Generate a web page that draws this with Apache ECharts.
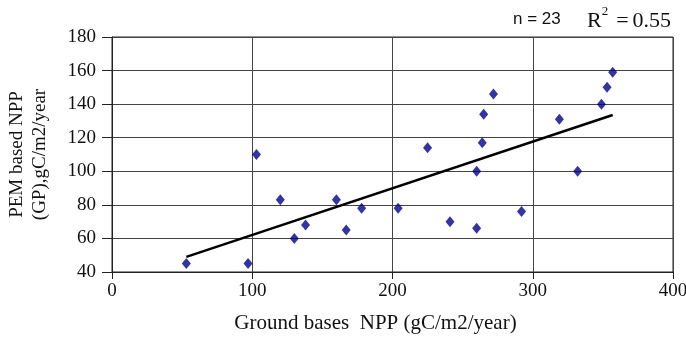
<!DOCTYPE html>
<html><head><meta charset="utf-8">
<script src="https://cdn.jsdelivr.net/npm/echarts@6/dist/echarts.min.js"></script>
<style>html,body{margin:0;padding:0;background:#fff}#c{width:686px;height:338px}</style>
</head><body><div id="c"></div>
<script>
const groundNPP = [53, 97, 103, 120, 130, 138, 160, 167, 178, 204, 225, 241, 260, 260, 264, 265, 272, 292, 319, 332, 349, 353, 357];
const pemNPP    = [45, 45, 110, 83, 60, 68, 83, 65, 78, 78, 114, 70, 100, 66, 117, 134, 146, 76, 131, 100, 140, 150, 159];
const trendX = [53, 357];
const trendY = [49, 133.5];
const xTicks = [0, 100, 200, 300, 400];
const yTicks = [40, 60, 80, 100, 120, 140, 160, 180];
const xTitle = 'Ground bases  NPP (gC/m2/year)';
const yTitle = 'PEM based NPP\n(GP),gC/m2/year';
const nLabel = 'n = 23';

const font = 'Liberation Serif';
const tickRich = {t: {fontFamily: font, fontSize: 19, color: '#111'}};
const chart = echarts.init(document.getElementById('c'), null, {renderer: 'canvas'});
chart.setOption({
  animation: false,
  backgroundColor: '#fff',
  textStyle: {fontFamily: font},
  grid: {left: 112, right: 13, top: 37, bottom: 66, show: true, borderColor: '#222', borderWidth: 1,
         containLabel: false, outerBoundsMode: 'none'},
  xAxis: {
    type: 'value', min: xTicks[0], max: xTicks[xTicks.length - 1], interval: 100,
    axisLine: {show: true, lineStyle: {color: '#222', width: 1}},
    axisTick: {show: true, length: 7, lineStyle: {color: '#222'}},
    axisLabel: {color: '#111', fontFamily: font, fontSize: 19, margin: 10, formatter: '{t|{value}}', rich: tickRich},
    splitLine: {show: true, lineStyle: {color: '#444', width: 1}},
    name: xTitle, nameLocation: 'middle', nameGap: 41,
    nameTextStyle: {color: '#111', fontFamily: font, fontSize: 21, padding: [0, 34, 0, 0]}
  },
  yAxis: {
    type: 'value', min: yTicks[0], max: yTicks[yTicks.length - 1], interval: 20,
    axisLine: {show: true, lineStyle: {color: '#222', width: 1}},
    axisTick: {show: true, length: 10, lineStyle: {color: '#222'}},
    axisLabel: {color: '#111', fontFamily: font, fontSize: 19, margin: 16, formatter: '{t|{value}}', rich: tickRich},
    splitLine: {show: true, lineStyle: {color: '#444', width: 1}},
    name: yTitle, nameLocation: 'middle', nameGap: 60, nameRotate: 90,
    nameTextStyle: {color: '#111', fontFamily: font, fontSize: 19, lineHeight: 23, align: 'center'}
  },
  series: [
    {
      type: 'line', data: trendX.map((x, i) => [x, trendY[i]]),
      symbol: 'none', lineStyle: {color: '#000', width: 2.5}, z: 3
    },
    {
      type: 'scatter', data: groundNPP.map((x, i) => [x, pemNPP[i]]),
      symbol: 'diamond', symbolSize: [9, 11], itemStyle: {color: '#00008B'}, z: 4
    }
  ],
  graphic: [
    {type: 'text', left: 513, top: 11, style: {text: nLabel, font: '17px "Liberation Sans Narrow", "Liberation Sans", sans-serif', fill: '#111'}},
    {type: 'text', left: 587, top: 5, style: {
      text: '{a|R}{s|2}{b|=}{a|0.55}',
      rich: {
        a: {fontFamily: font, fontSize: 22, fill: '#111', verticalAlign: 'bottom', lineHeight: 27},
        b: {fontFamily: font, fontSize: 22, fill: '#111', verticalAlign: 'bottom', lineHeight: 27, padding: [0, 4, 0, 8]},
        s: {fontFamily: font, fontSize: 13, fill: '#111', verticalAlign: 'top', lineHeight: 27, padding: [0, 0, 13, 0]}
      }
    }}
  ]
});
</script></body></html>
